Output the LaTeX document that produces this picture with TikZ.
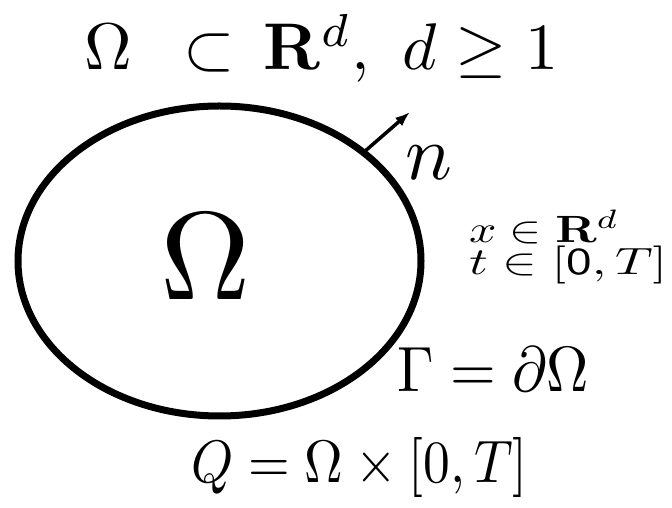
\documentclass[tikz,border=0pt]{standalone}
\usepackage{amsmath}
\usepackage{graphicx}
\usetikzlibrary{positioning, arrows.meta, shapes.geometric, calc}

\begin{document}
\begin{tikzpicture}[
    x=1pt, y=1pt,
    regionbox/.style={draw, ellipse, line width=7pt, minimum width=403pt, minimum height=310pt, inner sep=0pt, outer sep=0pt},
    lbl/.style={inner sep=0pt, anchor=base west},
    nrmarrow/.style={-{Latex[length=15pt, width=11pt]}, line width=3.5pt}
]
\useasboundingbox (0,0) rectangle (672,508);

% ================= Nodes =================

% The domain and its name
\node[regionbox] (dom) at (219.5, 247) {};
\node[inner sep=0pt, anchor=base] (omega) at (205.5, 208) {\scalebox{12.5}{$\Omega$}};

% Title
\node[lbl] (title) at (84, 438) {\scalebox{6.6}{$\Omega\ \,\subset\ \!\mathbf{R}^d,\ d \geq 1$}};

% Outward normal
\coordinate (ntip) at (410, 396);
\node[lbl] (nlab) at (405, 328) {\scalebox{7.8}{$n$}};

% Variables (one block of two lines, placed by its last baseline)
\node[lbl, align=left] (vars) at (469, 233) {\scalebox{4.8}[3.8]{$x \in \mathbf{R}^d$}\\[2pt]
    \scalebox{5.2}[3.8]{$t \in [\mathsf{0}, T]$}};

% Boundary and space-time cylinder
\node[lbl] (bdry) at (397, 116) {\scalebox{5.87}[6.4]{$\Gamma = \partial\Omega$}};
\node[lbl] (cyl) at (191, 25) {\scalebox{5.35}[6.0]{$Q = \Omega \times [0,T]$}};

% ================= Edges =================

\draw[nrmarrow] (dom.37) -- (ntip);

\end{tikzpicture}
\end{document}
